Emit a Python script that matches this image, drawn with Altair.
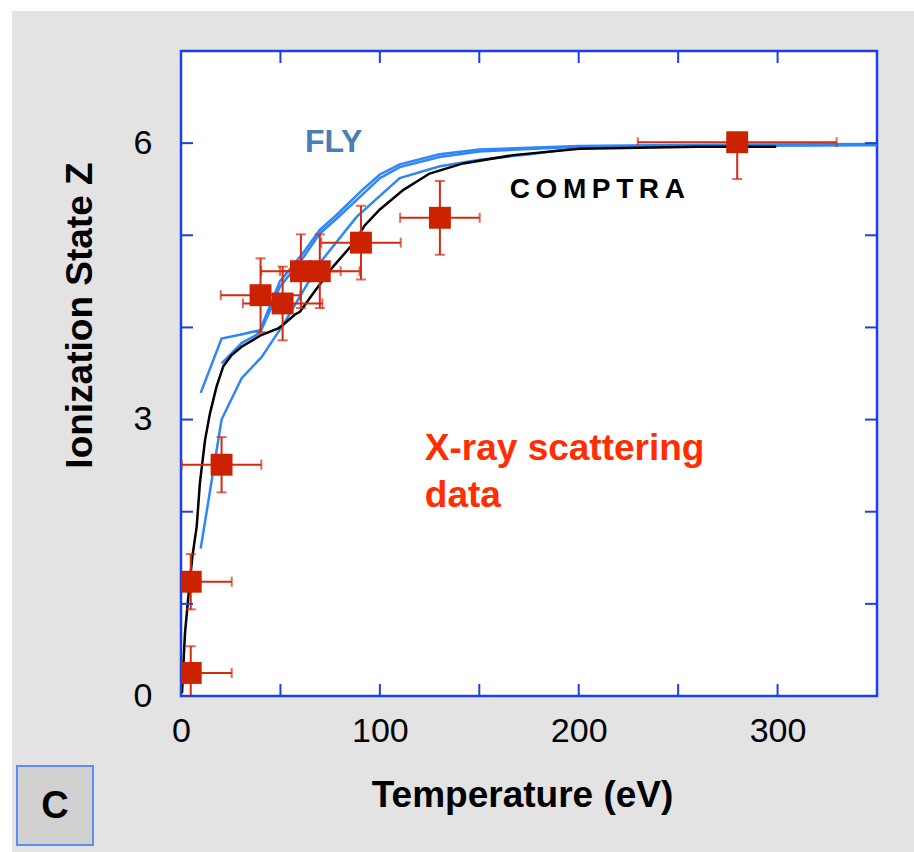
import altair as alt
import pandas as pd

# ---- data ----
comptra_t = [0.5, 2, 3.7, 5.7, 7.9, 9.5, 12.1, 14.6, 17.9, 21.3, 25.5, 30.5, 40.6, 48.9, 51.4,
             57.3, 59.8, 66.5, 76.5, 86.6, 92.5, 100, 111.7, 125, 141.9, 167, 200.5, 230, 260, 299.3]
comptra_z = [0.03, 0.68, 1.08, 1.51, 1.84, 2.31, 2.78, 3.07, 3.36, 3.58, 3.70, 3.79, 3.92, 3.99, 4.03,
             4.14, 4.17, 4.37, 4.66, 4.91, 5.11, 5.28, 5.49, 5.67, 5.78, 5.87, 5.94, 5.95, 5.96, 5.96]

fly_a_t = [9.9, 20.4, 29.6, 39.7, 44.7, 49.7, 61.5, 69.8, 78.2, 91.6, 100, 110, 130, 150, 200, 250, 350]
fly_a_z = [3.29, 3.88, 3.92, 3.97, 4.23, 4.50, 4.81, 5.06, 5.22, 5.50, 5.66, 5.77, 5.88, 5.93, 5.97, 5.98, 5.99]
fly_b_t = [20.4, 30.5, 39.7, 44.7, 49.7, 61.5, 69.8, 78.2, 91.6, 100, 110, 130, 150, 200, 250, 350]
fly_b_z = [3.61, 3.83, 3.94, 4.18, 4.44, 4.76, 5.02, 5.18, 5.45, 5.62, 5.74, 5.85, 5.91, 5.96, 5.97, 5.98]
fly_c_t = [9.9, 20.4, 30.5, 40.6, 51.4, 53.9, 69.8, 88.3, 110, 130.2, 150.3, 175.4, 200.5, 250, 350]
fly_c_z = [1.60, 3.00, 3.45, 3.68, 4.03, 4.12, 4.70, 5.20, 5.62, 5.75, 5.82, 5.88, 5.95, 5.97, 5.98]

pts_t = [4.9, 4.9, 20.4, 40.0, 51.1, 60.3, 69.8, 90.5, 130.2, 279.7]
pts_z = [0.25, 1.24, 2.51, 4.35, 4.26, 4.61, 4.61, 4.92, 5.19, 6.01]
t_err = [20.6, 20.6, 20, 20, 20, 20, 20, 20, 20, 50]
z_err_lo = [0.29, 0.30, 0.30, 0.40, 0.40, 0.40, 0.40, 0.40, 0.40, 0.40]
z_err_hi = [0.29, 0.30, 0.30, 0.40, 0.40, 0.40, 0.40, 0.40, 0.40, 0.0]

x_ticks = [0, 50, 100, 150, 200, 250, 300, 350]
y_ticks = [0, 1, 2, 3, 4, 5, 6, 7]
x_labels = [0, 100, 200, 300]
y_labels = [0, 3, 6]

notes_text = ["FLY", "C\u2009O\u2009M\u2009P\u2009T\u2009R\u2009A", "X-ray scattering", "data"]
notes_t = [62.3, 165.3, 122.6, 122.6]
notes_z = [5.90, 5.40, 2.56, 2.05]
notes_color = ["#4a7fb5", "#000000", "#ff2d00", "#ff2d00"]
notes_size = [32, 28, 37, 37]

# ---- tables ----
comptra = pd.DataFrame({"t": comptra_t, "z": comptra_z})
fly = pd.concat([
    pd.DataFrame({"t": fly_a_t, "z": fly_a_z, "s": "a"}),
    pd.DataFrame({"t": fly_b_t, "z": fly_b_z, "s": "b"}),
    pd.DataFrame({"t": fly_c_t, "z": fly_c_z, "s": "c"}),
])
pts = pd.DataFrame({"t": pts_t, "z": pts_z, "te": t_err, "zl": z_err_lo, "zh": z_err_hi})
pts["t_lo"] = pts["t"] - pts["te"]
pts["t_hi"] = pts["t"] + pts["te"]
pts["z_lo"] = pts["z"] - pts["zl"]
pts["z_hi"] = pts["z"] + pts["zh"]
xt = pd.DataFrame({"t": x_ticks})
yt = pd.DataFrame({"z": y_ticks})
notes = pd.DataFrame({"t": notes_t, "z": notes_z, "txt": notes_text, "c": notes_color, "fs": notes_size})
one = pd.DataFrame({"k": [0]})

W, H = 696, 645
FONT = "Liberation Sans"
BLUE_AX = "#1c3fe8"
RED = "#cc2200"
RED_BAR = "#d42a10"

xs = alt.Scale(domain=[0, 350], nice=False, zero=False)
ys = alt.Scale(domain=[0, 7], nice=False, zero=False)
xaxis = alt.Axis(values=x_labels, ticks=False, domain=False, grid=False, labelFont=FONT,
                 labelFontSize=34, labelColor="black", labelPadding=18, title="Temperature (eV)",
                 titleFont=FONT, titleFontSize=37, titleFontWeight="bold", titleColor="black",
                 titleX=341, titleY=81, titleAlign="center", titleBaseline="top", zindex=1,
                 labelFlush=False)
yaxis = alt.Axis(values=y_labels, ticks=False, domain=False, grid=False, labelFont=FONT,
                 labelFontSize=34, labelColor="black", labelPadding=29, title="Ionization State Z",
                 titleFont=FONT, titleFontSize=37, titleFontWeight="bold", titleColor="black",
                 titleX=-101, titleY=264, titleAngle=-90, titleAlign="center", titleBaseline="middle",
                 zindex=1, labelFlush=False)
X = alt.X("t:Q", scale=xs, axis=xaxis)
Y = alt.Y("z:Q", scale=ys, axis=yaxis)

bg = alt.Chart(one).mark_rect(fill="#e3e3e3", clip=False).encode(
    x=alt.value(-169), x2=alt.value(740), y=alt.value(-40), y2=alt.value(810))
frame = alt.Chart(one).mark_rect(fill="white", stroke=BLUE_AX, strokeWidth=2.5, clip=False).encode(
    x=alt.value(0), x2=alt.value(W), y=alt.value(0), y2=alt.value(H))

fly_lines = alt.Chart(fly).mark_line(color="#2f86f6", strokeWidth=2.5, clip=True).encode(
    x=X, y=Y, detail="s:N", order="t:Q")
comptra_line = alt.Chart(comptra).mark_line(color="black", strokeWidth=2.5, clip=True).encode(
    x=X, y=Y, order="t:Q")

hbar = alt.Chart(pts).mark_rule(color=RED_BAR, strokeWidth=2, clip=True).encode(
    x=alt.X("t_lo:Q", scale=xs, axis=xaxis), x2="t_hi:Q", y=Y)
vbar = alt.Chart(pts).mark_rule(color=RED_BAR, strokeWidth=2, clip=True).encode(
    x=X, y=alt.Y("z_lo:Q", scale=ys, axis=yaxis), y2="z_hi:Q")
cap_l = alt.Chart(pts).mark_tick(color=RED_BAR, thickness=2, size=10, orient="vertical", clip=True).encode(
    x=alt.X("t_lo:Q", scale=xs, axis=xaxis), y=Y)
cap_r = alt.Chart(pts).mark_tick(color=RED_BAR, thickness=2, size=10, orient="vertical", clip=True).encode(
    x=alt.X("t_hi:Q", scale=xs, axis=xaxis), y=Y)
cap_b = alt.Chart(pts).mark_tick(color=RED_BAR, thickness=2, size=10, orient="horizontal", clip=True).encode(
    x=X, y=alt.Y("z_lo:Q", scale=ys, axis=yaxis))
cap_t = alt.Chart(pts[pts["zh"] > 0]).mark_tick(color=RED_BAR, thickness=2, size=10, orient="horizontal",
                                                clip=True).encode(
    x=X, y=alt.Y("z_hi:Q", scale=ys, axis=yaxis))
squares = alt.Chart(pts).mark_square(color=RED, size=480, opacity=1, clip=True).encode(x=X, y=Y)

texts = alt.Chart(notes).mark_text(font=FONT, fontWeight="bold", align="left",
                                   baseline="alphabetic").encode(
    x=X, y=Y, text="txt:N", color=alt.Color("c:N", scale=None), size=alt.Size("fs:Q", scale=None))

tick_bottom = alt.Chart(xt).mark_rule(color=BLUE_AX, strokeWidth=2).encode(
    x=X, y=alt.value(H), y2=alt.value(H - 12))
tick_top = alt.Chart(xt).mark_rule(color=BLUE_AX, strokeWidth=2).encode(
    x=X, y=alt.value(0), y2=alt.value(12))
tick_left = alt.Chart(yt).mark_rule(color=BLUE_AX, strokeWidth=2).encode(
    y=Y, x=alt.value(0), x2=alt.value(12))
tick_right = alt.Chart(yt).mark_rule(color=BLUE_AX, strokeWidth=2).encode(
    y=Y, x=alt.value(W), x2=alt.value(W - 12))

cbox = alt.Chart(one).mark_rect(fill="#d1d1d1", stroke="#5b8ef2", strokeWidth=2, clip=False).encode(
    x=alt.value(-164), x2=alt.value(-88), y=alt.value(715), y2=alt.value(794))
ctext = alt.Chart(one).mark_text(text="C", font=FONT, fontWeight="bold", fontSize=38, color="black",
                                 align="center", baseline="middle", clip=False).encode(
    x=alt.value(-126), y=alt.value(756))

chart = alt.layer(
    bg, frame, fly_lines, comptra_line, hbar, vbar, cap_l, cap_r, cap_b, cap_t, squares, texts,
    tick_bottom, tick_top, tick_left, tick_right, cbox, ctext
).properties(
    width=W, height=H,
    padding={"left": 181, "top": 51, "right": 37, "bottom": 156},
    autosize=alt.AutoSizeParams(type="none"),
    background="white",
).configure_view(stroke=None)

chart.save("out.html", embed_options={"renderer": "svg", "actions": False})
